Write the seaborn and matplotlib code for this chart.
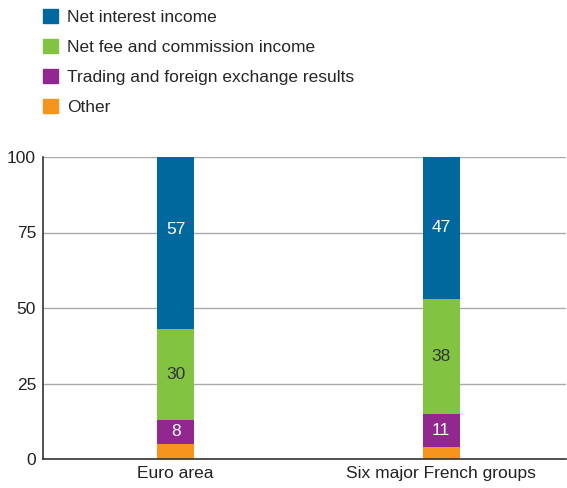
import matplotlib
matplotlib.use("Agg")
import matplotlib.pyplot as plt
import matplotlib.patches as mpatches
import numpy as np
import pandas as pd
import seaborn as sns

# data (percent of net banking income)
groups = ["Euro area", "Six major French groups"]
other = [5, 4]
trading = [8, 11]
fees = [30, 38]
interest = [57, 47]

series = ["Other", "Trading and foreign exchange results",
          "Net fee and commission income", "Net interest income"]
colors = ["#F7941D", "#92278F", "#82C341", "#00689D"]
label_colors = [None, "white", "#333333", "white"]
show_label = [False, True, True, True]

sns.set_style("white")
plt.rcParams["font.family"] = ["Liberation Sans Narrow", "Liberation Sans", "DejaVu Sans"]
plt.rcParams["font.stretch"] = "condensed"

values = np.array([other, trading, fees, interest], dtype=float)
cum = values.cumsum(axis=0)

fig = plt.figure(figsize=(5.67, 4.88), dpi=100)
ax = fig.add_axes([43 / 567, 29 / 488, 523 / 567, 302 / 488])

# draw cumulative totals from the top down so each layer covers the one above
for i in range(len(series) - 1, -1, -1):
    df = pd.DataFrame({"group": groups, "value": cum[i]})
    sns.barplot(data=df, x="group", y="value", color=colors[i], width=0.14,
                saturation=1, ax=ax, linewidth=0)

for i in range(len(series)):
    if not show_label[i]:
        continue
    for j in range(len(groups)):
        mid = cum[i, j] - values[i, j] / 2
        if i == len(series) - 1:
            mid = max(mid, 76)
        ax.text(j, mid, f"{values[i, j]:.0f}", ha="center", va="center",
                color=label_colors[i], fontsize=12.5)

ax.set_ylim(0, 100)
ax.set_xlim(-0.5, 1.47)
ax.set_yticks([0, 25, 50, 75, 100])
ax.yaxis.grid(True, color="#AAAAAA", linewidth=1)
ax.set_axisbelow(True)
ax.set_xlabel("")
ax.set_ylabel("")
ax.tick_params(axis="both", length=0, labelsize=12.5, colors="#222222")
ax.tick_params(axis="y", pad=5)
ax.tick_params(axis="x", pad=5)
for s in ["top", "right"]:
    ax.spines[s].set_visible(False)
for s in ["left", "bottom"]:
    ax.spines[s].set_color("#333333")
    ax.spines[s].set_linewidth(1.2)

handles = [mpatches.Patch(color=colors[i], label=series[i]) for i in range(3, -1, -1)]
fig.legend(handles=handles, loc="upper left", bbox_to_anchor=(43 / 567, 1 - 9 / 488),
           frameon=False, fontsize=12.5, handlelength=0.88, handleheight=0.88,
           handletextpad=0.52, labelspacing=0.8, borderaxespad=0, borderpad=0)

fig.savefig("out.png", dpi=100)
